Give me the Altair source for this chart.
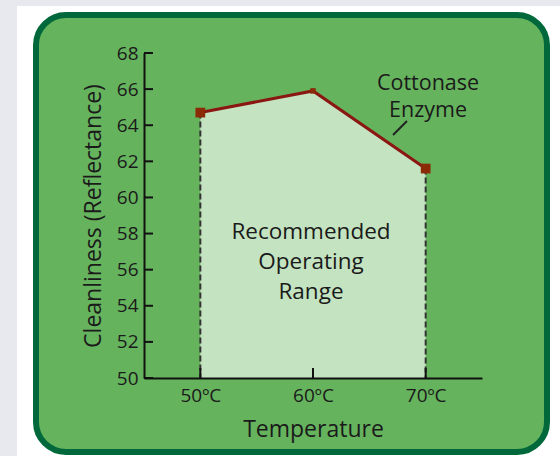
import altair as alt
import pandas as pd

# Cleanliness of cotton washed with the enzyme at three temperatures
temps = [50, 60, 70]
reflectance = [64.7, 65.9, 61.6]
temp_labels = ["50ºC", "60ºC", "70ºC"]
y_ticks = [50, 52, 54, 56, 58, 60, 62, 64, 66, 68]
Y_MIN, Y_MAX = 50, 68
X_MIN, X_MAX = 45, 75

FONT = "Open Sans"
INK = "#1a1a1a"
W, H = 338, 325
PAD = {"left": 144, "top": 53, "right": 78, "bottom": 78}

df = pd.DataFrame({"temp": temps, "refl": reflectance, "label": temp_labels, "base": [Y_MIN] * 3})
ticks_df = pd.DataFrame({"v": y_ticks})
one = pd.DataFrame({"k": [0]})

xs = alt.Scale(domain=[X_MIN, X_MAX], nice=False, zero=False)
ys = alt.Scale(domain=[Y_MIN, Y_MAX], nice=False, zero=False)

common = dict(
    ticks=False, grid=False, domainColor="#111", domainWidth=2, zindex=1,
    labelFont=FONT, labelColor=INK, labelOverlap=False, labelFlush=False,
    titleFont=FONT, titleFontWeight="normal", titleColor=INK,
)
x_axis = alt.Axis(
    values=temps, labelExpr="datum.value + 'ºC'", title="Temperature",
    labelFontSize=19, labelPadding=8, titleFontSize=23, titlePadding=13, **common,
)
y_axis = alt.Axis(
    values=y_ticks, title="Cleanliness (Reflectance)",
    labelFontSize=19, labelPadding=6, titleFontSize=23, titlePadding=11, **common,
)

X = alt.X("temp:Q", scale=xs, axis=x_axis)
Y = alt.Y("refl:Q", scale=ys, axis=y_axis)

# panel background: white card and rounded green frame
white_card = alt.Chart(one).mark_rect(color="white").encode(
    x=alt.value(17 - PAD["left"]), x2=alt.value(W + PAD["right"]),
    y=alt.value(6 - PAD["top"]), y2=alt.value(H + PAD["bottom"]),
)
green_card = alt.Chart(one).mark_rect(
    color="#66b35e", stroke="#00683a", strokeWidth=6, cornerRadius=30
).encode(
    x=alt.value(36 - PAD["left"]), x2=alt.value(547 - PAD["left"]),
    y=alt.value(15 - PAD["top"]), y2=alt.value(452 - PAD["top"]),
)

area = alt.Chart(df).mark_area(color="#c4e3c0", opacity=1).encode(x=X, y=Y, y2="base:Q")

edges = alt.Chart(df).transform_filter(alt.datum.temp != 60).mark_rule(
    color="#333333", strokeWidth=2, strokeDash=[6, 3]
).encode(x=X, y=Y, y2="base:Q")

line = alt.Chart(df).mark_line(color="#8a1712", strokeWidth=3).encode(x=X, y=Y)
points = alt.Chart(df).transform_filter(alt.datum.temp != 60).mark_point(
    shape="square", filled=True, color="#8a2a06", size=95, opacity=1
).encode(x=X, y=Y)
peak = alt.Chart(df).transform_filter(alt.datum.temp == 60).mark_point(
    shape="square", filled=True, color="#8a2a06", size=30, opacity=1
).encode(x=X, y=Y)

# inward-pointing tick marks
x_ticks = alt.Chart(df).mark_rule(color="#111", strokeWidth=2).encode(
    x=X, y=alt.value(H), y2=alt.value(H - 10)
)
y_tick_marks = alt.Chart(ticks_df).mark_rule(color="#111", strokeWidth=2).encode(
    y=alt.Y("v:Q", scale=ys, axis=y_axis), x=alt.value(0), x2=alt.value(9)
)

range_text = alt.Chart(one).mark_text(
    text=["Recommended", "Operating", "Range"], font=FONT, fontSize=22.5,
    color=INK, lineHeight=30, align="center", baseline="middle",
).encode(x=alt.value(311 - PAD["left"]), y=alt.value(232 - PAD["top"]))

enzyme_text = alt.Chart(one).mark_text(
    text=["Cottonase", "Enzyme"], font=FONT, fontSize=21.5,
    color=INK, lineHeight=27, align="center", baseline="middle",
).encode(x=alt.value(428 - PAD["left"]), y=alt.value(84 - PAD["top"]))

leader = alt.Chart(one).mark_rule(color="#222", strokeWidth=2).encode(
    x=alt.value(393 - PAD["left"]), y=alt.value(135 - PAD["top"]),
    x2=alt.value(407 - PAD["left"]), y2=alt.value(121 - PAD["top"]),
)

chart = alt.layer(
    white_card, green_card, area, edges, line, points, peak,
    x_ticks, y_tick_marks, range_text, enzyme_text, leader,
).properties(
    width=W, height=H,
    autosize=alt.AutoSizeParams(type="none"),
    padding=PAD,
    background="#e7e9ee",
).configure_view(stroke=None)

chart.save("out.html", embed_options={"renderer": "svg", "actions": False})
